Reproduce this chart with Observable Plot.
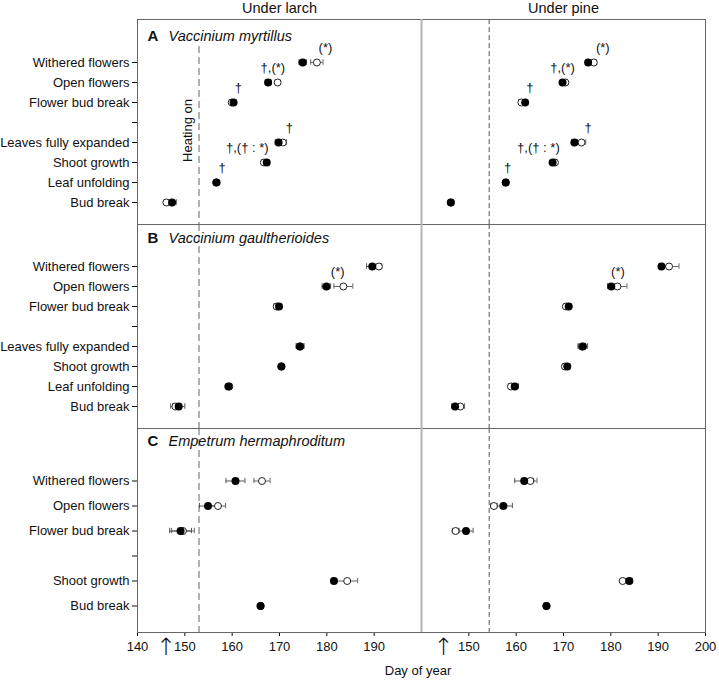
<!DOCTYPE html>
<html><head><meta charset="utf-8">
<script src="https://cdn.jsdelivr.net/npm/d3@7"></script>
<script src="https://cdn.jsdelivr.net/npm/@observablehq/plot@0.6"></script>
<style>
html,body{margin:0;padding:0;background:#fff;}
#chart{position:relative;width:719px;height:682px;overflow:hidden;font-family:"Liberation Sans",Arial,sans-serif;}
#chart svg{position:absolute;}
.xlabel{position:absolute;left:318px;width:200px;top:663px;text-align:center;font-size:13px;line-height:15px;color:#111;}
</style></head><body><div id="chart"></div>
<script>
// ---------- categories ----------
const sites = ["Under larch", "Under pine"];
const panelLetters = ["A", "B", "C"];
const species = ["Vaccinium myrtillus", "Vaccinium gaultherioides", "Empetrum hermaphroditum"];
// y axis rows ("" = empty spacer row)
const stagesAB = ["Withered flowers", "Open flowers", "Flower bud break", "", "Leaves fully expanded", "Shoot growth", "Leaf unfolding", "Bud break"];
const stagesC = ["Withered flowers", "Open flowers", "Flower bud break", "", "Shoot growth", "Bud break"];
const phasesAB = ["Withered flowers", "Open flowers", "Flower bud break", "Leaves fully expanded", "Shoot growth", "Leaf unfolding", "Bud break"];
const phasesC = ["Withered flowers", "Open flowers", "Flower bud break", "Shoot growth", "Bud break"];

// ---------- x axis ----------
const xDomain = [140, 200];
const ticksLarch = [140, 150, 160, 170, 180, 190];
const ticksPine = [150, 160, 170, 180, 190, 200];
const heatingDay = [153.0, 154.3];      // "Heating on" line, larch / pine
const arrowDay = [146.0, 144.6];        // arrows below the axis
const heatingLabel = "Heating on";
const heatingLabelDay = 150.7;

// ---------- Vaccinium myrtillus ----------
const myrLarchCtrl   = [174.9, 167.6, 160.3, 169.8, 167.3, 156.7, 147.3];
const myrLarchCtrlSE = [0.8, 0.6, 0.5, 0.7, 0.4, 0.4, 0.9];
const myrLarchWarm   = [177.9, 169.6, 159.9, 170.7, 166.7, 156.6, 146.1];
const myrLarchWarmSE = [1.3, 0.5, 0.5, 0.8, 0.4, 0.3, 0.5];
const myrPineCtrl    = [175.2, 169.8, 161.9, 172.3, 167.7, 157.8, 146.2];
const myrPineCtrlSE  = [0.4, 0.4, 0.4, 0.5, 0.4, 0.4, 0.4];
const myrPineWarm    = [176.4, 170.4, 161.1, 173.8, 168.2, 157.8, 146.2];
const myrPineWarmSE  = [0.6, 0.4, 0.6, 0.9, 0.4, 0.3, 0.3];
// ---------- Vaccinium gaultherioides ----------
const gauLarchCtrl   = [189.6, 179.9, 169.9, 174.3, 170.4, 159.2, 148.7];
const gauLarchCtrlSE = [1.2, 0.9, 0.5, 0.8, 0.4, 0.4, 1.3];
const gauLarchWarm   = [191.0, 183.5, 169.4, 174.4, 170.4, 159.4, 148.0];
const gauLarchWarmSE = [0.6, 2.0, 0.6, 0.8, 0.4, 0.5, 1.0];
const gauPineCtrl    = [190.7, 180.1, 171.1, 174.1, 170.8, 159.7, 147.1];
const gauPineCtrlSE  = [0.5, 0.8, 0.5, 1.0, 0.5, 0.8, 0.7];
const gauPineWarm    = [192.3, 181.4, 170.5, 173.9, 170.3, 158.9, 148.2];
const gauPineWarmSE  = [2.1, 2.0, 0.4, 0.8, 0.4, 0.5, 0.9];
// ---------- Empetrum hermaphroditum ----------
const empLarchCtrl   = [160.7, 154.9, 149.1, 181.5, 166.0];
const empLarchCtrlSE = [2.0, 1.8, 2.3, 0.4, 0.4];
const empLarchWarm   = [166.3, 157.0, 149.6, 184.3, 166.0];
const empLarchWarmSE = [1.7, 1.6, 2.4, 2.2, 0.3];
const empPineCtrl    = [161.7, 157.3, 149.4, 183.9, 166.4];
const empPineCtrlSE  = [2.0, 1.9, 1.5, 0.7, 0.4];
const empPineWarm    = [163.0, 155.3, 147.2, 182.5, 166.4];
const empPineWarmSE  = [1.4, 0.7, 0.7, 0.3, 0.3];

// ---------- significance annotations ----------
const notesMyrLarch = [
  {stage: "Withered flowers", x: 179.7, label: "(*)"},
  {stage: "Open flowers", x: 168.6, label: "†,(*)"},
  {stage: "Flower bud break", x: 161.3, label: "†"},
  {stage: "Leaves fully expanded", x: 172.1, label: "†"},
  {stage: "Shoot growth", x: 163.2, label: "†,(† : *)"},
  {stage: "Leaf unfolding", x: 157.9, label: "†"}
];
const notesMyrPine = [
  {stage: "Withered flowers", x: 178.3, label: "(*)"},
  {stage: "Open flowers", x: 169.8, label: "†,(*)"},
  {stage: "Flower bud break", x: 162.9, label: "†"},
  {stage: "Leaves fully expanded", x: 175.2, label: "†"},
  {stage: "Shoot growth", x: 164.7, label: "†,(† : *)"},
  {stage: "Leaf unfolding", x: 158.2, label: "†"}
];
const notesGauLarch = [{stage: "Open flowers", x: 182.3, label: "(*)"}];
const notesGauPine = [{stage: "Open flowers", x: 181.5, label: "(*)"}];
const notesEmp = [];

// ---------- layout ----------
const rowsLayout = [
  {top: 0, height: 224, mt: 19, mb: 0, insetTop: 30.75, insetBottom: 10.25, cap: 7.25, titleDy: 16.5},
  {top: 224, height: 204, mt: 0, mb: 0, insetTop: 30.25, insetBottom: 9.75, cap: 7.25, titleDy: 14},
  {top: 428, height: 254, mt: 0, mb: 50, insetTop: 37.65, insetBottom: 12.15, cap: 9.85, titleDy: 13}
];
const colsLayout = [
  {left: 0, width: 421, ml: 137, mr: 0},
  {left: 421, width: 298, ml: 0, mr: 14}
];

const panels = [
  {row: 0, col: 0, stages: stagesAB, phases: phasesAB, c: myrLarchCtrl, cse: myrLarchCtrlSE, w: myrLarchWarm, wse: myrLarchWarmSE, notes: notesMyrLarch},
  {row: 0, col: 1, stages: stagesAB, phases: phasesAB, c: myrPineCtrl, cse: myrPineCtrlSE, w: myrPineWarm, wse: myrPineWarmSE, notes: notesMyrPine},
  {row: 1, col: 0, stages: stagesAB, phases: phasesAB, c: gauLarchCtrl, cse: gauLarchCtrlSE, w: gauLarchWarm, wse: gauLarchWarmSE, notes: notesGauLarch},
  {row: 1, col: 1, stages: stagesAB, phases: phasesAB, c: gauPineCtrl, cse: gauPineCtrlSE, w: gauPineWarm, wse: gauPineWarmSE, notes: notesGauPine},
  {row: 2, col: 0, stages: stagesC, phases: phasesC, c: empLarchCtrl, cse: empLarchCtrlSE, w: empLarchWarm, wse: empLarchWarmSE, notes: notesEmp},
  {row: 2, col: 1, stages: stagesC, phases: phasesC, c: empPineCtrl, cse: empPineCtrlSE, w: empPineWarm, wse: empPineWarmSE, notes: notesEmp}
];

const chart = document.getElementById("chart");

for (const p of panels) {
  const R = rowsLayout[p.row], C = colsLayout[p.col];
  const isLeft = p.col === 0, isTop = p.row === 0, isBottom = p.row === 2;
  const data = p.phases.map((s, i) => ({stage: s, c: p.c[i], cse: p.cse[i], w: p.w[i], wse: p.wse[i]}));
  const errMarks = (val, se, stroke) => [
    Plot.ruleY(data, {y: "stage", x1: d => d[val] - d[se], x2: d => d[val] + d[se], stroke, strokeWidth: 1}),
    Plot.tickX(data, {x: d => d[val] - d[se], y: "stage", insetTop: R.cap, insetBottom: R.cap, stroke, strokeWidth: 1}),
    Plot.tickX(data, {x: d => d[val] + d[se], y: "stage", insetTop: R.cap, insetBottom: R.cap, stroke, strokeWidth: 1})
  ];
  const marks = [
    Plot.ruleX([heatingDay[p.col]], {
      stroke: isLeft ? "#a6a6a6" : "#555",
      strokeWidth: isLeft ? 1.7 : 1,
      strokeDasharray: isLeft ? "7,4" : "5,3",
      insetTop: (isLeft && isTop) ? 27 : 0
    }),
    Plot.frame({stroke: "#666"}),
    ...errMarks("w", "wse", "#666"),
    ...errMarks("c", "cse", "#555"),
    Plot.dot(data, {x: "w", y: "stage", r: 3.5, fill: "white", stroke: "#222", strokeWidth: 1}),
    Plot.dot(data, {x: "c", y: "stage", r: 4, fill: "black"}),
    Plot.text(p.notes, {x: "x", y: "stage", text: "label", dy: -15, fill: "#111", fontSize: 13})
  ];
  if (!isLeft) marks.push(Plot.ruleX([xDomain[0]], {stroke: "#b4b4b4", strokeWidth: 2}));
  if (isTop) marks.push(Plot.text([sites[p.col]], {text: d => d, frameAnchor: "top", lineAnchor: "middle", dy: -11, fontSize: 14.5, fill: "#111"}));
  if (isLeft) {
    marks.push(Plot.text([panelLetters[p.row]], {text: d => d, frameAnchor: "top-left", lineAnchor: "middle", textAnchor: "start", dx: 10, dy: R.titleDy, fontWeight: "bold", fontSize: 15, fill: "#111"}));
    marks.push(Plot.text([species[p.row]], {text: d => d, frameAnchor: "top-left", lineAnchor: "middle", textAnchor: "start", dx: 31, dy: R.titleDy, fontStyle: "italic", fontSize: 14.5, fill: "#111"}));
  }
  if (isLeft && isTop) {
    marks.push(Plot.text([{x: heatingLabelDay, stage: "", label: heatingLabel}], {x: "x", y: "stage", text: "label", rotate: -90, dy: 8, fontSize: 13, fill: "#111"}));
  }
  if (isBottom) {
    marks.push(Plot.text([{x: arrowDay[p.col]}], {x: "x", frameAnchor: "bottom", lineAnchor: "middle", dy: 14.5, text: () => "↑", fontSize: 24, fontFamily: "'DejaVu Sans', sans-serif", fontWeight: 200, fill: "#111"}));
  }
  const svg = Plot.plot({
    width: C.width,
    height: R.height,
    marginLeft: C.ml,
    marginRight: C.mr,
    marginTop: R.mt,
    marginBottom: R.mb,
    style: {background: "transparent", overflow: "visible", fontFamily: "'Liberation Sans', Arial, sans-serif", fontSize: "13px", color: "#111"},
    x: {
      domain: xDomain,
      axis: isBottom ? "bottom" : null,
      ticks: isLeft ? ticksLarch : ticksPine,
      tickSize: 4,
      tickPadding: 5,
      label: null
    },
    y: {
      type: "band",
      domain: p.stages,
      padding: 0,
      insetTop: R.insetTop,
      insetBottom: R.insetBottom,
      axis: isLeft ? "left" : null,
      tickSize: 5,
      tickPadding: 3,
      tickFormat: d => d,
      label: null
    },
    marks
  });
  svg.style.left = C.left + "px";
  svg.style.top = R.top + "px";
  chart.appendChild(svg);
}

const xl = document.createElement("div");
xl.className = "xlabel";
xl.textContent = "Day of year";
chart.appendChild(xl);
</script></body></html>
